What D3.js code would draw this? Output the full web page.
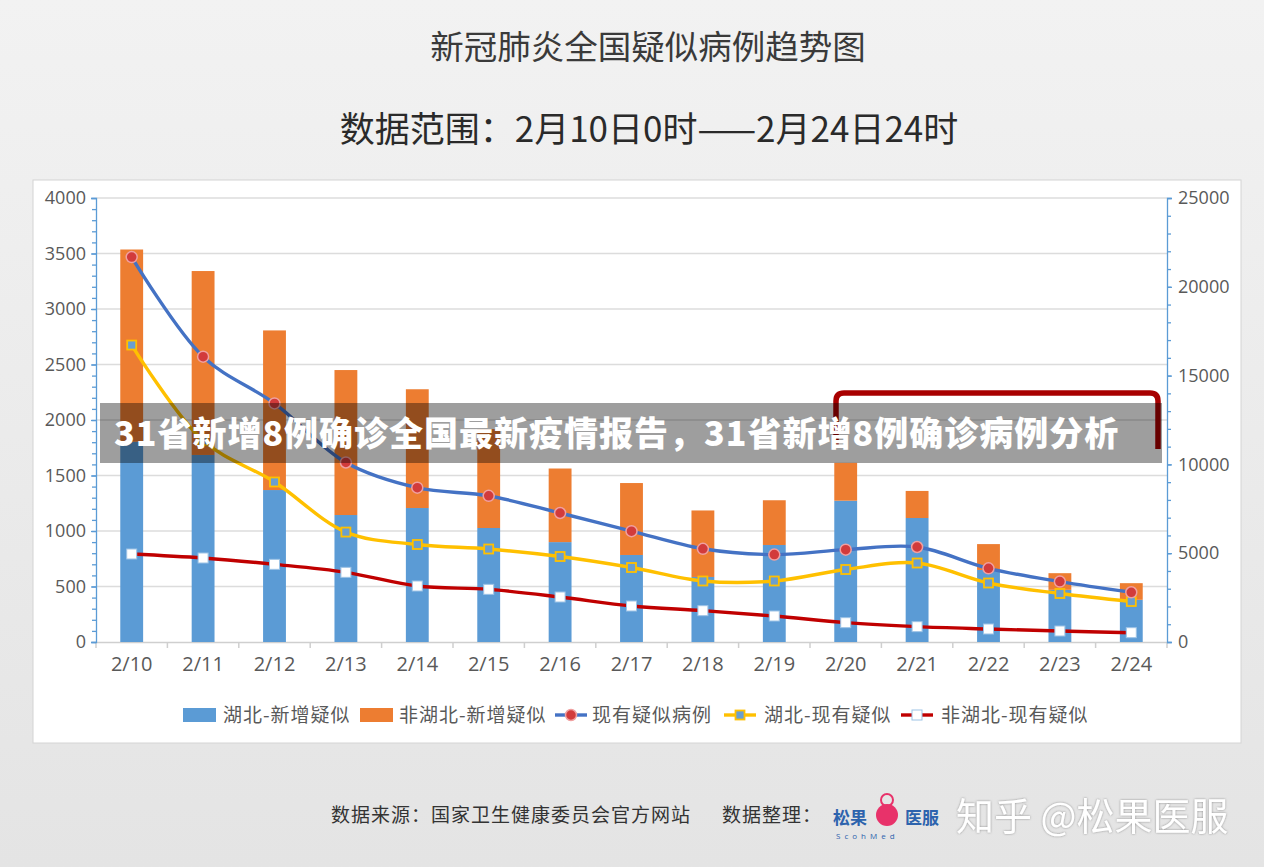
<!DOCTYPE html>
<html>
<head>
<meta charset="utf-8">
<script src="https://cdn.jsdelivr.net/npm/d3@7/dist/d3.min.js"></script>
<style>
  body { margin: 0; background: #ececec; }
  text { font-family: "Noto Sans CJK SC", "Noto Sans", sans-serif; }
  .num { font-family: "Open Sans", "Noto Sans", sans-serif; }
</style>
</head>
<body>
<svg id="chart"></svg>
<script>
const dates = ['2/10', '2/11', '2/12', '2/13', '2/14', '2/15', '2/16', '2/17',
               '2/18', '2/19', '2/20', '2/21', '2/22', '2/23', '2/24'];
// bars, left axis
const hubeiNew    = [1804, 1685, 1369, 1144, 1207, 1027, 900, 784, 586, 874, 1273, 1117, 649, 470, 380];
const nonHubeiNew = [1732, 1657, 1438, 1306, 1070, 891, 663, 648, 599, 403, 341, 244, 233, 150, 150];
// lines, right axis
const existing         = [21675, 16067, 13435, 10109, 8690, 8228, 7264, 6242, 5248, 4922, 5199, 5349, 4147, 3400, 2800];
const hubeiExisting    = [16720, 11340, 9010, 6190, 5490, 5236, 4814, 4195, 3435, 3435, 4082, 4448, 3322, 2731, 2280];
const nonHubeiExisting = [4955, 4730, 4373, 3922, 3153, 2965, 2534, 2027, 1764, 1464, 1089, 864, 732, 619, 525];
const leftTicks  = [0, 500, 1000, 1500, 2000, 2500, 3000, 3500, 4000];
const rightTicks = [0, 5000, 10000, 15000, 20000, 25000];
const legendNames = ['湖北-新增疑似', '非湖北-新增疑似', '现有疑似病例', '湖北-现有疑似', '非湖北-现有疑似'];

const W = 1264, H = 867;
const plot = {left: 96, right: 1167, top: 198, bottom: 642};
const blue = '#5b9bd5', orange = '#ed7d31', lineBlue = '#4472c4', yellow = '#ffc000', darkRed = '#c00000',
      grey = '#595959';

const svg = d3.select('#chart').attr('width', W).attr('height', H);

const defs = svg.append('defs');
const bg = defs.append('linearGradient').attr('id', 'bg').attr('x1', 0).attr('x2', 0).attr('y1', 0).attr('y2', 1);
bg.append('stop').attr('offset', '0%').attr('stop-color', '#f2f2f2');
bg.append('stop').attr('offset', '100%').attr('stop-color', '#e4e4e4');
const sh = defs.append('filter').attr('id', 'wm').attr('x', '-5%').attr('y', '-20%').attr('width', '110%').attr('height', '140%');
sh.append('feDropShadow').attr('dx', 0).attr('dy', 0).attr('stdDeviation', 1.2).attr('flood-color', '#777').attr('flood-opacity', 0.8);

svg.append('rect').attr('width', W).attr('height', H).attr('fill', 'url(#bg)');

// titles
svg.append('text').attr('x', 648).attr('y', 59).attr('text-anchor', 'middle')
   .attr('font-size', '33.5px').attr('fill', '#3a3a3a').text('新冠肺炎全国疑似病例趋势图');
svg.append('text').attr('x', 649).attr('y', 142).attr('text-anchor', 'middle')
   .attr('font-size', '35px').attr('fill', '#2a2a2a').text('数据范围：2月10日0时——2月24日24时');

// chart panel
svg.append('rect').attr('x', 33).attr('y', 180).attr('width', 1208).attr('height', 563)
   .attr('fill', '#fff').attr('stroke', '#d4d4d4');

const x = d3.scaleBand().domain(dates).range([plot.left, plot.right]).padding(0);
const barW = x.bandwidth() * 0.32;
const yL = d3.scaleLinear().domain([0, 4000]).range([plot.bottom, plot.top]);
const yR = d3.scaleLinear().domain([0, 25000]).range([plot.bottom, plot.top]);
const cx = d => x(d) + x.bandwidth() / 2;

// grid
svg.append('g').selectAll('line').data(leftTicks.slice(1)).join('line')
   .attr('x1', plot.left).attr('x2', plot.right)
   .attr('y1', d => yL(d)).attr('y2', d => yL(d))
   .attr('stroke', '#dcdcdc').attr('stroke-width', 1.5);

// x axis
const xAxis = svg.append('g').attr('transform', `translate(0,${plot.bottom})`)
   .call(d3.axisBottom(x).tickSize(0).tickPadding(15));
xAxis.select('.domain').attr('stroke', '#cfcfcf').attr('stroke-width', 1.5);
xAxis.selectAll('text').attr('class', 'num').attr('font-size', '20px').attr('fill', grey);
xAxis.selectAll('.sep').data(dates.concat(['end'])).join('line').attr('class', 'sep')
   .attr('x1', (d, i) => plot.left + i * x.step()).attr('x2', (d, i) => plot.left + i * x.step())
   .attr('y1', 0).attr('y2', 6).attr('stroke', '#cfcfcf').attr('stroke-width', 1.5);

// left axis
const leftAxis = svg.append('g').attr('transform', `translate(${plot.left},0)`)
   .call(d3.axisLeft(yL).tickValues(leftTicks).tickSize(5).tickPadding(5).tickFormat(d3.format('d')));
leftAxis.append('g').call(d3.axisLeft(yL).tickValues(d3.range(0, 4001, 100)).tickSize(4).tickFormat(''))
   .select('.domain').remove();
leftAxis.selectAll('.domain, line').attr('stroke', blue).attr('stroke-width', 1.3);
leftAxis.selectAll('text').attr('class', 'num').attr('font-size', '18px').attr('fill', grey);

// right axis
const rightAxis = svg.append('g').attr('transform', `translate(${plot.right},0)`)
   .call(d3.axisRight(yR).tickValues(rightTicks).tickSize(5).tickPadding(6).tickFormat(d3.format('d')));
rightAxis.append('g').call(d3.axisRight(yR).tickValues(d3.range(0, 25001, 1000)).tickSize(4).tickFormat(''))
   .select('.domain').remove();
rightAxis.selectAll('.domain, line').attr('stroke', blue).attr('stroke-width', 1.3);
rightAxis.selectAll('text').attr('class', 'num').attr('font-size', '18px').attr('fill', grey);

// stacked bars
const barRows = dates.map((d, i) => ({date: d, hubei: hubeiNew[i], other: nonHubeiNew[i]}));
const stack = d3.stack().keys(['hubei', 'other'])(barRows);
const barColor = d3.scaleOrdinal().domain(['hubei', 'other']).range([blue, orange]);
svg.append('g').selectAll('g').data(stack).join('g').attr('fill', s => barColor(s.key))
   .selectAll('rect').data(s => s).join('rect')
   .attr('x', d => cx(d.data.date) - barW / 2).attr('width', barW)
   .attr('y', d => yL(d[1])).attr('height', d => yL(d[0]) - yL(d[1]));

// lines
const curve = d3.curveCatmullRom.alpha(0.5);
const line = d3.line().x((d, i) => cx(dates[i])).y(d => yR(d)).curve(curve);
function drawSeries(values, color, marker) {
  const g = svg.append('g');
  g.append('path').datum(values).attr('d', line).attr('fill', 'none')
   .attr('stroke', color).attr('stroke-width', 3.4).attr('stroke-linecap', 'round');
  marker(g.selectAll('.m').data(values).join('g').attr('class', 'm')
   .attr('transform', (d, i) => `translate(${cx(dates[i])},${yR(d)})`));
}
const circleMarker = sel => sel.append('circle').attr('r', 5.5).attr('fill', '#d23b3b')
   .attr('stroke', '#f0a0a0').attr('stroke-width', 1.5);
const yellowMarker = sel => sel.append('rect').attr('x', -4.5).attr('y', -4.5).attr('width', 9).attr('height', 9)
   .attr('fill', '#6a9fcf').attr('stroke', yellow).attr('stroke-width', 1.8);
const whiteMarker = sel => sel.append('rect').attr('x', -5).attr('y', -5).attr('width', 10).attr('height', 10)
   .attr('fill', '#fff').attr('stroke', '#9dc3e6').attr('stroke-width', 1);
drawSeries(nonHubeiExisting, darkRed, whiteMarker);
drawSeries(hubeiExisting, yellow, yellowMarker);
drawSeries(existing, lineBlue, circleMarker);

// legend
const legendX = [183, 360, 555, 724, 901];
const legendTextX = [223, 399, 592, 764, 941];
const legend = svg.append('g').attr('transform', 'translate(0,715)');
legend.selectAll('text').data(legendNames).join('text')
   .attr('x', (d, i) => legendTextX[i]).attr('y', 7).attr('font-size', '19px').attr('letter-spacing', '1px')
   .attr('fill', grey).text(d => d);
[blue, orange].forEach((c, i) => legend.append('rect').attr('x', legendX[i]).attr('y', -7)
   .attr('width', 33).attr('height', 14).attr('fill', c));
const legendLines = [[lineBlue, circleMarker], [yellow, yellowMarker], [darkRed, whiteMarker]];
legendLines.forEach(([c, m], i) => {
  const lx = legendX[i + 2];
  legend.append('line').attr('x1', lx).attr('x2', lx + 32).attr('stroke', c).attr('stroke-width', 3.4);
  m(legend.append('g').attr('transform', `translate(${lx + 16},0)`));
});

// annotation bracket
svg.append('path')
   .attr('d', 'M836,448 L836,401 Q836,393 844,393 L1150,393 Q1158,393 1158,401 L1158,449')
   .attr('fill', 'none').attr('stroke', '#a80000').attr('stroke-width', 5.5);

// overlay banner
svg.append('rect').attr('x', 100).attr('y', 403).attr('width', 1062).attr('height', 60)
   .attr('fill', 'rgba(0,0,0,0.38)');
svg.append('text').attr('x', 114).attr('y', 446).attr('font-size', '34px').attr('font-weight', 900)
   .attr('letter-spacing', '1px').attr('fill', '#fff')
   .text('31省新增8例确诊全国最新疫情报告，31省新增8例确诊病例分析');

// footer
svg.append('text').attr('x', 331).attr('y', 822).attr('font-size', '19px').attr('letter-spacing', '1px')
   .attr('fill', '#333').text('数据来源：国家卫生健康委员会官方网站');
svg.append('text').attr('x', 722).attr('y', 822).attr('font-size', '19px').attr('letter-spacing', '1px')
   .attr('fill', '#333').text('数据整理：');
const logo = svg.append('g');
logo.append('text').attr('x', 833).attr('y', 824).attr('font-size', '17px').attr('font-weight', 700)
   .attr('fill', '#2d63ad').text('松果');
logo.append('text').attr('x', 905).attr('y', 824).attr('font-size', '17px').attr('font-weight', 700)
   .attr('fill', '#2d63ad').text('医服');
logo.append('circle').attr('cx', 887).attr('cy', 815).attr('r', 11).attr('fill', '#e8326a');
logo.append('circle').attr('cx', 887).attr('cy', 800).attr('r', 6).attr('fill', 'none')
   .attr('stroke', '#e8326a').attr('stroke-width', 2);
logo.append('text').attr('x', 836).attr('y', 839).attr('font-size', '8px').attr('letter-spacing', '4px')
   .attr('fill', '#2d63ad').attr('class', 'num').text('ScohMed');
svg.append('text').attr('x', 956).attr('y', 830).attr('font-size', '38px').attr('fill', '#fff')
   .attr('filter', 'url(#wm)').text('知乎 @松果医服');
</script>
</body>
</html>
